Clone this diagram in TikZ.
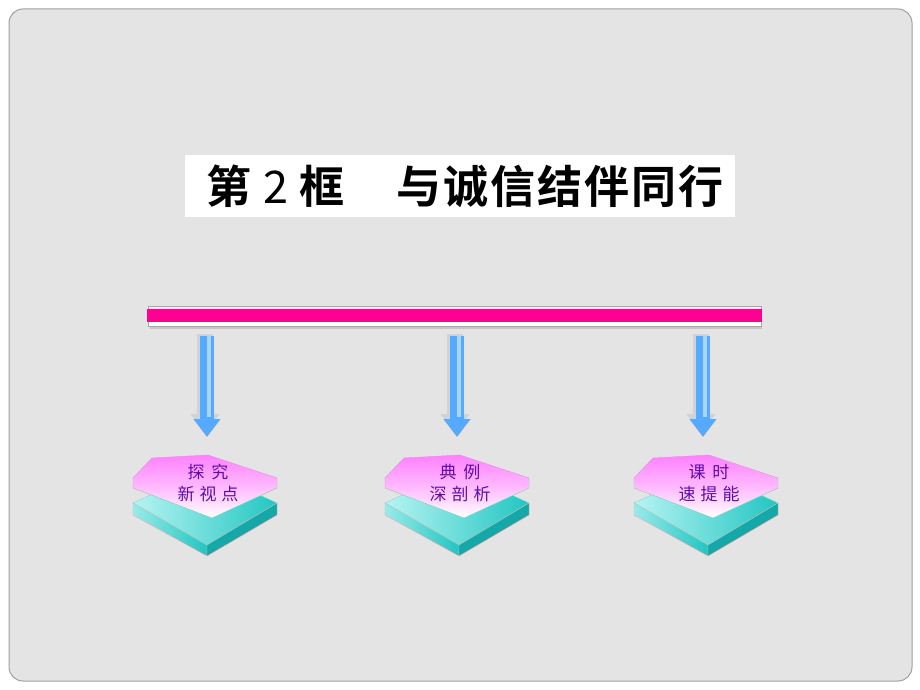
\documentclass[tikz,border=0pt]{standalone}
\usepackage{fontspec}
\setmainfont{Noto Sans CJK SC}
\newfontfamily\cjk{Noto Sans CJK SC}
\newfontfamily\cjkbf{Noto Sans CJK SC Bold}
\usetikzlibrary{arrows.meta}
\usetikzlibrary{positioning}

\definecolor{bggray}{HTML}{E4E4E4}
\definecolor{barpink}{HTML}{FF0090}
\definecolor{arrowblue}{HTML}{55AAFF}
\definecolor{arrowlight}{HTML}{A8D6FF}
\definecolor{slabpink}{HTML}{FF80FF}
\definecolor{slabteal}{HTML}{22C6C2}
\definecolor{slabtealdark}{HTML}{14A8A8}
\definecolor{slabteallight}{HTML}{B6F4F2}
\definecolor{slabtext}{HTML}{5E0CB0}

\tikzset{
  slab/.pic={
    % base
    \path[left color=slabteallight, right color=slabteal, draw=gray!50, line width=0.4pt]
      (-72,25) -- (0,-8) -- (72,25) -- (2,67) -- cycle;
    \path[left color=slabteallight!80!slabteal, right color=slabteal, draw=gray!50, line width=0.4pt]
      (-72,25) -- (2,67) -- (2,78) -- (-72,37) -- cycle;
    \path[fill=slabtealdark, draw=gray!50, line width=0.4pt]
      (2,67) -- (72,25) -- (72,37) -- (2,78) -- cycle;
    % top layer
    \path[top color=slabpink, bottom color=white, middle color=slabpink!55, draw=gray!60, line width=0.4pt]
      (-72,0) -- (-53,-20) -- (3,-23) -- (72,0) -- (72,10) -- (7,40) -- (-72,10) -- cycle;
  },
  slabtxt/.style={text=slabtext, font=\cjk\fontsize{17}{22}\selectfont, align=center},
  bigarrow/.style={line width=14pt, arrowblue, -{Triangle[width=26pt,length=18pt]}},
  arrowshade/.style={line width=16pt, gray!35, -{Triangle[width=28pt,length=19pt]}},
}

\begin{document}
\begin{tikzpicture}[x=1pt,y=-1pt]
  \useasboundingbox (0,0) rectangle (920,690);
  \fill[white] (0,0) rectangle (920,690);
  \draw[gray!75, fill=bggray, rounded corners=14pt, line width=1pt] (9,9) rectangle (912,681);

  % title
  \node[fill=white, minimum width=550pt, minimum height=62pt, inner sep=0pt] (title) at (460,186)
    {\cjkbf\fontsize{45}{48}\selectfont\hspace*{10pt}第\hspace{12pt}{\cjk 2}\hspace{12pt}框\hspace{52pt}与\hspace{2pt}诚\hspace{2pt}信\hspace{2pt}结\hspace{2pt}伴\hspace{2pt}同\hspace{2pt}行};

  % bar
  \fill[gray!45] (150,324) rectangle (762,329);
  \node[draw=gray!70, fill=white, minimum width=613pt, minimum height=20pt, inner sep=0pt] (bar) at (454.5,316) {};
  \fill[barpink] (147,309) rectangle (762,322);

  % slabs
  \pic at (205,478) {slab};
  \pic at (457,478) {slab};
  \pic at (706,478) {slab};
  \node[slabtxt] (tan)  at (208,483) {探\hspace{7pt}究\\新\hspace{5pt}视\hspace{5pt}点};
  \node[slabtxt] (dian) at (460,483) {典\hspace{7pt}例\\深\hspace{5pt}剖\hspace{5pt}析};
  \node[slabtxt] (ke)   at (709,483) {课\hspace{7pt}时\\速\hspace{5pt}提\hspace{5pt}能};

  % arrows
  \coordinate (a1) at (207,336);
  \coordinate (b1) at (207,437);
  \coordinate (a2) at (457,336);
  \coordinate (b2) at (457,437);
  \coordinate (a3) at (703,336);
  \coordinate (b3) at (703,437);
  \foreach \i in {1,2,3} {
    \draw[arrowshade] ([shift={(-2,-2)}]a\i) -- ([shift={(-2,-4)}]b\i);
    \draw[bigarrow] (a\i) -- (b\i);
    \draw[line width=4pt, arrowlight, shorten >=20pt] ([xshift=2pt]a\i) -- ([xshift=2pt]b\i);
  }
\end{tikzpicture}
\end{document}
